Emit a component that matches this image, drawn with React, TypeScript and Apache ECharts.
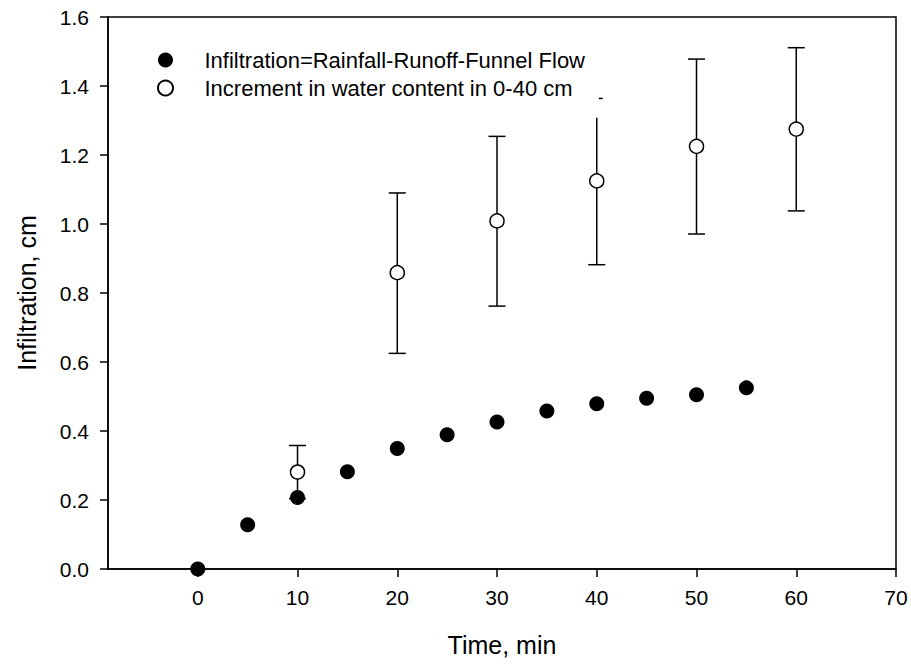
import React, { useEffect, useRef } from "react";
import * as echarts from "echarts";

const timeFilled = [0, 5, 10, 15, 20, 25, 30, 35, 40, 45, 50, 55];
const infFilled = [0, 0.128, 0.207, 0.282, 0.349, 0.389, 0.426, 0.458, 0.479, 0.495, 0.505, 0.525];

const timeOpen = [10, 20, 30, 40, 50, 60];
const incOpen = [0.281, 0.859, 1.009, 1.125, 1.225, 1.275];
const errLow = [0.204, 0.625, 0.762, 0.882, 0.971, 1.038];
const errHigh = [0.358, 1.09, 1.254, 1.364, 1.478, 1.511];
const errLineTop = [0.358, 1.09, 1.254, 1.308, 1.478, 1.511];

const xTicks = [0, 10, 20, 30, 40, 50, 60, 70];

const nameFilled = "Infiltration=Rainfall-Runoff-Funnel Flow";
const nameOpen = "Increment in water content in 0-40 cm";

const FONT = "'Liberation Sans', Arial, Helvetica, sans-serif";

export default function App() {
  const ref = useRef<HTMLDivElement>(null);
  useEffect(() => {
    if (!ref.current) return;
    const chart = echarts.init(ref.current, null, { renderer: "svg" });
    const filledData = timeFilled.map((t, i) => [t, infFilled[i]]);
    const openData = timeOpen.map((t, i) => [t, incOpen[i]]);
    const errData = timeOpen.map((t, i) => [t, incOpen[i], errLow[i], errHigh[i], errLineTop[i]]);
    const capHalf = 8.5;
    const option: any = {
      animation: false,
      backgroundColor: "#fff",
      textStyle: { fontFamily: FONT, color: "#000" },
      grid: {
        left: 108,
        right: 15,
        top: 17,
        bottom: 95,
        show: true,
        borderColor: "#000",
        borderWidth: 1.5,
        backgroundColor: "transparent",
      },
      legend: {
        orient: "vertical",
        left: 157,
        top: 46,
        padding: 0,
        itemGap: 0,
        itemWidth: 68,
        itemHeight: 15,
        icon: "circle",
        selectedMode: false,
        textStyle: { fontFamily: FONT, fontSize: 22, color: "#000", lineHeight: 28 },
        data: [nameFilled, nameOpen],
      },
      xAxis: {
        type: "value",
        min: -9,
        max: 70,
        name: "Time, min",
        nameLocation: "middle",
        nameGap: 63,
        nameTextStyle: { fontFamily: FONT, fontSize: 25, color: "#000" },
        splitLine: { show: false },
        axisLine: { show: true, onZero: false, lineStyle: { color: "#000", width: 1.5 } },
        axisTick: { show: true, inside: false, length: 8, customValues: xTicks, lineStyle: { color: "#000", width: 1.5 } },
        axisLabel: { customValues: xTicks, margin: 18, fontFamily: FONT, fontSize: 21, color: "#000" },
      },
      yAxis: {
        type: "value",
        min: 0,
        max: 1.6,
        interval: 0.2,
        name: "Infiltration, cm",
        nameLocation: "middle",
        nameGap: 69,
        nameTextStyle: { fontFamily: FONT, fontSize: 25, color: "#000" },
        splitLine: { show: false },
        axisLine: { show: true, onZero: false, lineStyle: { color: "#000", width: 1.5 } },
        axisTick: { show: true, inside: false, length: 8, lineStyle: { color: "#000", width: 1.5 } },
        axisLabel: {
          margin: 19,
          fontFamily: FONT,
          fontSize: 21,
          color: "#000",
          formatter: (v: number) => v.toFixed(1),
        },
      },
      series: [
        {
          type: "custom",
          name: "errorbars",
          z: 1,
          silent: true,
          data: errData,
          encode: { x: 0, y: [1, 2, 3, 4] },
          renderItem: (params: any, api: any) => {
            const x = api.value(0);
            const low = api.value(2);
            const high = api.value(3);
            const top = api.value(4);
            const pLow = api.coord([x, low]);
            const pHigh = api.coord([x, high]);
            const pTop = api.coord([x, top]);
            const style = { stroke: "#000", lineWidth: 1.5, fill: null };
            const children: any[] = [
              { type: "line", shape: { x1: pLow[0], y1: pLow[1], x2: pTop[0], y2: pTop[1] }, style },
              { type: "line", shape: { x1: pLow[0] - capHalf, y1: pLow[1], x2: pLow[0] + capHalf, y2: pLow[1] }, style },
            ];
            if (Math.abs(top - high) < 1e-9) {
              children.push({ type: "line", shape: { x1: pHigh[0] - capHalf, y1: pHigh[1], x2: pHigh[0] + capHalf, y2: pHigh[1] }, style });
            } else {
              children.push({ type: "line", shape: { x1: pHigh[0] + 2, y1: pHigh[1], x2: pHigh[0] + 6, y2: pHigh[1] }, style });
            }
            return { type: "group", children };
          },
        },
        {
          type: "scatter",
          name: nameOpen,
          z: 2,
          symbol: "circle",
          symbolSize: 14,
          itemStyle: { color: "#fff", borderColor: "#000", borderWidth: 1.5, opacity: 1 },
          data: openData,
        },
        {
          type: "scatter",
          name: nameFilled,
          z: 3,
          symbol: "circle",
          symbolSize: 15,
          itemStyle: { color: "#000", opacity: 1 },
          data: filledData,
        },
      ],
    };
    chart.setOption(option);
    return () => chart.dispose();
  }, []);
  return (
    <div
      ref={ref}
      style={{ position: "fixed", left: 0, top: 0, width: 911, height: 664, background: "#fff" }}
    />
  );
}
